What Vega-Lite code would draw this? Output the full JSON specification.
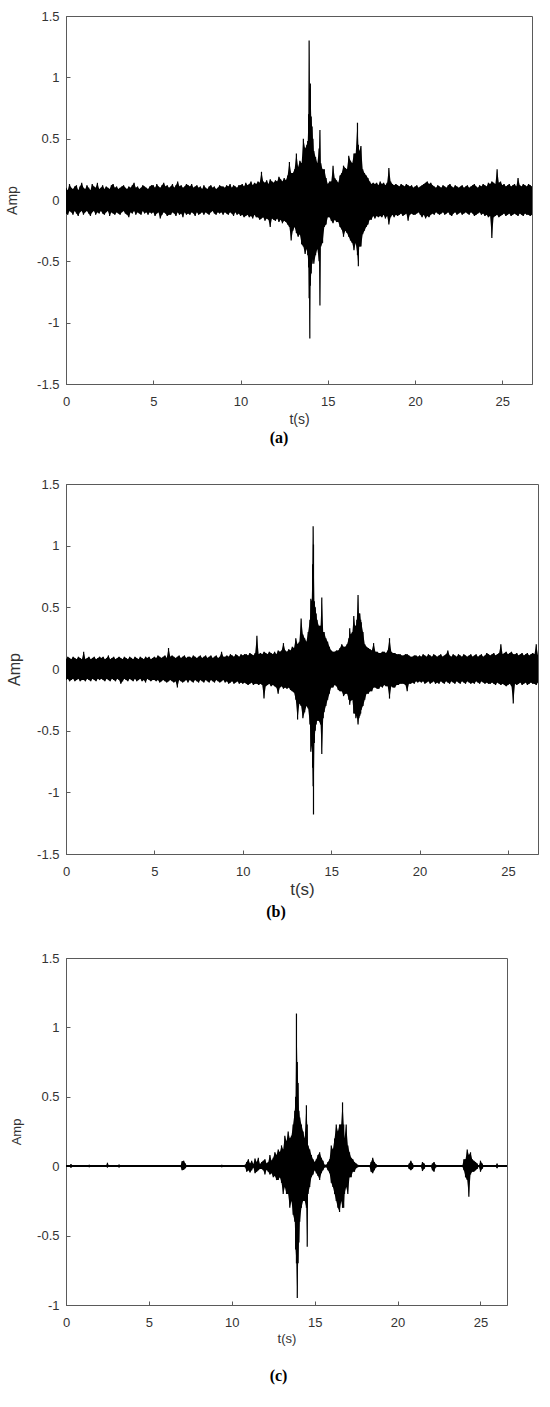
{
"$schema": "https://vega.github.io/schema/vega-lite/v6.json",
"padding": {"left": 5, "top": 9, "right": 0, "bottom": 0},
"columns": 1,
"spacing": 30,
"background": "white",
"config": {
  "view": {"stroke": "#5a5a5a", "strokeWidth": 1},
  "axis": {"grid": false, "domainColor": "#5a5a5a", "tickColor": "#5a5a5a", "tickSize": -4, "labelFont": "Liberation Sans", "titleFont": "Liberation Sans", "labelColor": "#333333", "titleColor": "#333333", "labelFontSize": 13, "titleFontWeight": "normal"},
  "axisX": {"labelPadding": 15, "labelFlush": false, "titlePadding": 4},
  "axisY": {"labelPadding": 11}
},
"datasets": {
"a": [
{"t":0.0,"hi":0.10,"lo":-0.11},{"t":0.1,"hi":0.08,"lo":-0.12},{"t":0.2,"hi":0.13,"lo":-0.09},{"t":0.3,"hi":0.10,"lo":-0.10},{"t":0.4,"hi":0.09,"lo":-0.12},{"t":0.5,"hi":0.11,"lo":-0.09},{"t":0.6,"hi":0.12,"lo":-0.11},{"t":0.7,"hi":0.08,"lo":-0.13},{"t":0.8,"hi":0.11,"lo":-0.10},{"t":0.9,"hi":0.14,"lo":-0.09},
{"t":1.0,"hi":0.10,"lo":-0.12},{"t":1.1,"hi":0.09,"lo":-0.10},{"t":1.2,"hi":0.12,"lo":-0.09},{"t":1.3,"hi":0.10,"lo":-0.11},{"t":1.4,"hi":0.08,"lo":-0.13},{"t":1.5,"hi":0.13,"lo":-0.10},{"t":1.6,"hi":0.11,"lo":-0.09},{"t":1.7,"hi":0.10,"lo":-0.12},{"t":1.8,"hi":0.14,"lo":-0.10},{"t":1.9,"hi":0.09,"lo":-0.11},
{"t":2.0,"hi":0.10,"lo":-0.09},{"t":2.1,"hi":0.12,"lo":-0.11},{"t":2.2,"hi":0.09,"lo":-0.12},{"t":2.3,"hi":0.11,"lo":-0.10},{"t":2.4,"hi":0.10,"lo":-0.09},{"t":2.5,"hi":0.09,"lo":-0.13},{"t":2.6,"hi":0.12,"lo":-0.10},{"t":2.7,"hi":0.13,"lo":-0.11},{"t":2.8,"hi":0.10,"lo":-0.12},{"t":2.9,"hi":0.11,"lo":-0.10},
{"t":3.0,"hi":0.09,"lo":-0.11},{"t":3.1,"hi":0.10,"lo":-0.12},{"t":3.2,"hi":0.11,"lo":-0.10},{"t":3.3,"hi":0.12,"lo":-0.09},{"t":3.4,"hi":0.10,"lo":-0.11},{"t":3.5,"hi":0.09,"lo":-0.12},{"t":3.6,"hi":0.11,"lo":-0.14},{"t":3.7,"hi":0.10,"lo":-0.10},{"t":3.8,"hi":0.12,"lo":-0.11},{"t":3.9,"hi":0.14,"lo":-0.09},
{"t":4.0,"hi":0.10,"lo":-0.12},{"t":4.1,"hi":0.11,"lo":-0.10},{"t":4.2,"hi":0.09,"lo":-0.11},{"t":4.3,"hi":0.10,"lo":-0.12},{"t":4.4,"hi":0.12,"lo":-0.09},{"t":4.5,"hi":0.11,"lo":-0.11},{"t":4.6,"hi":0.10,"lo":-0.10},{"t":4.7,"hi":0.09,"lo":-0.12},{"t":4.8,"hi":0.11,"lo":-0.10},{"t":4.9,"hi":0.12,"lo":-0.11},
{"t":5.0,"hi":0.12,"lo":-0.10},{"t":5.1,"hi":0.10,"lo":-0.13},{"t":5.2,"hi":0.13,"lo":-0.11},{"t":5.3,"hi":0.11,"lo":-0.10},{"t":5.4,"hi":0.10,"lo":-0.15},{"t":5.5,"hi":0.12,"lo":-0.12},{"t":5.6,"hi":0.14,"lo":-0.10},{"t":5.7,"hi":0.11,"lo":-0.11},{"t":5.8,"hi":0.12,"lo":-0.13},{"t":5.9,"hi":0.10,"lo":-0.12},
{"t":6.0,"hi":0.11,"lo":-0.12},{"t":6.1,"hi":0.13,"lo":-0.10},{"t":6.2,"hi":0.10,"lo":-0.11},{"t":6.3,"hi":0.12,"lo":-0.13},{"t":6.4,"hi":0.15,"lo":-0.10},{"t":6.5,"hi":0.11,"lo":-0.12},{"t":6.6,"hi":0.12,"lo":-0.11},{"t":6.7,"hi":0.10,"lo":-0.14},{"t":6.8,"hi":0.11,"lo":-0.10},{"t":6.9,"hi":0.13,"lo":-0.12},
{"t":7.0,"hi":0.12,"lo":-0.11},{"t":7.1,"hi":0.11,"lo":-0.12},{"t":7.2,"hi":0.13,"lo":-0.10},{"t":7.3,"hi":0.10,"lo":-0.11},{"t":7.4,"hi":0.11,"lo":-0.13},{"t":7.5,"hi":0.12,"lo":-0.10},{"t":7.6,"hi":0.10,"lo":-0.12},{"t":7.7,"hi":0.11,"lo":-0.11},{"t":7.8,"hi":0.09,"lo":-0.10},{"t":7.9,"hi":0.12,"lo":-0.12},
{"t":8.0,"hi":0.10,"lo":-0.10},{"t":8.1,"hi":0.09,"lo":-0.11},{"t":8.2,"hi":0.11,"lo":-0.12},{"t":8.3,"hi":0.12,"lo":-0.10},{"t":8.4,"hi":0.10,"lo":-0.09},{"t":8.5,"hi":0.11,"lo":-0.11},{"t":8.6,"hi":0.09,"lo":-0.12},{"t":8.7,"hi":0.10,"lo":-0.10},{"t":8.8,"hi":0.12,"lo":-0.11},{"t":8.9,"hi":0.11,"lo":-0.10},
{"t":9.0,"hi":0.11,"lo":-0.12},{"t":9.1,"hi":0.10,"lo":-0.10},{"t":9.2,"hi":0.12,"lo":-0.11},{"t":9.3,"hi":0.11,"lo":-0.12},{"t":9.4,"hi":0.13,"lo":-0.10},{"t":9.5,"hi":0.10,"lo":-0.11},{"t":9.6,"hi":0.12,"lo":-0.13},{"t":9.7,"hi":0.11,"lo":-0.10},{"t":9.8,"hi":0.10,"lo":-0.12},{"t":9.9,"hi":0.12,"lo":-0.11},
{"t":10.0,"hi":0.12,"lo":-0.13},{"t":10.1,"hi":0.13,"lo":-0.12},{"t":10.2,"hi":0.11,"lo":-0.14},{"t":10.3,"hi":0.14,"lo":-0.13},{"t":10.4,"hi":0.12,"lo":-0.12},{"t":10.5,"hi":0.13,"lo":-0.14},{"t":10.6,"hi":0.15,"lo":-0.13},{"t":10.7,"hi":0.12,"lo":-0.15},{"t":10.8,"hi":0.14,"lo":-0.12},{"t":10.9,"hi":0.13,"lo":-0.14},
{"t":11.0,"hi":0.15,"lo":-0.14},{"t":11.1,"hi":0.14,"lo":-0.16},{"t":11.2,"hi":0.23,"lo":-0.15},{"t":11.3,"hi":0.15,"lo":-0.14},{"t":11.4,"hi":0.14,"lo":-0.17},{"t":11.5,"hi":0.16,"lo":-0.15},{"t":11.6,"hi":0.13,"lo":-0.16},{"t":11.7,"hi":0.17,"lo":-0.22},{"t":11.8,"hi":0.15,"lo":-0.15},{"t":11.9,"hi":0.14,"lo":-0.16},
{"t":12.0,"hi":0.16,"lo":-0.17},{"t":12.1,"hi":0.15,"lo":-0.15},{"t":12.2,"hi":0.19,"lo":-0.18},{"t":12.3,"hi":0.17,"lo":-0.16},{"t":12.4,"hi":0.15,"lo":-0.19},{"t":12.5,"hi":0.18,"lo":-0.17},{"t":12.6,"hi":0.16,"lo":-0.18},{"t":12.7,"hi":0.20,"lo":-0.20},{"t":12.8,"hi":0.31,"lo":-0.22},{"t":12.9,"hi":0.22,"lo":-0.33},
{"t":13.0,"hi":0.22,"lo":-0.25},{"t":13.1,"hi":0.25,"lo":-0.22},{"t":13.2,"hi":0.38,"lo":-0.27},{"t":13.3,"hi":0.27,"lo":-0.30},{"t":13.4,"hi":0.32,"lo":-0.28},{"t":13.5,"hi":0.30,"lo":-0.36},{"t":13.6,"hi":0.50,"lo":-0.38},{"t":13.7,"hi":0.42,"lo":-0.44},{"t":13.8,"hi":0.45,"lo":-0.40},{"t":13.85,"hi":0.48,"lo":-0.45},
{"t":13.9,"hi":0.70,"lo":-0.55},{"t":13.93,"hi":1.30,"lo":-0.80},{"t":13.97,"hi":0.90,"lo":-1.13},{"t":14.0,"hi":0.95,"lo":-0.70},{"t":14.05,"hi":0.68,"lo":-0.60},{"t":14.1,"hi":0.60,"lo":-0.52},{"t":14.15,"hi":0.50,"lo":-0.48},{"t":14.2,"hi":0.40,"lo":-0.52},{"t":14.3,"hi":0.35,"lo":-0.45},{"t":14.4,"hi":0.30,"lo":-0.40},
{"t":14.5,"hi":0.42,"lo":-0.50},{"t":14.55,"hi":0.57,"lo":-0.86},{"t":14.6,"hi":0.30,"lo":-0.38},{"t":14.7,"hi":0.25,"lo":-0.35},{"t":14.8,"hi":0.25,"lo":-0.22},{"t":14.9,"hi":0.18,"lo":-0.20},
{"t":15.0,"hi":0.13,"lo":-0.14},{"t":15.1,"hi":0.15,"lo":-0.14},{"t":15.2,"hi":0.15,"lo":-0.17},{"t":15.3,"hi":0.28,"lo":-0.19},{"t":15.4,"hi":0.18,"lo":-0.16},{"t":15.5,"hi":0.16,"lo":-0.18},{"t":15.6,"hi":0.14,"lo":-0.18},{"t":15.7,"hi":0.20,"lo":-0.22},{"t":15.8,"hi":0.22,"lo":-0.24},{"t":15.9,"hi":0.28,"lo":-0.30},
{"t":16.0,"hi":0.26,"lo":-0.25},{"t":16.1,"hi":0.25,"lo":-0.27},{"t":16.2,"hi":0.36,"lo":-0.30},{"t":16.3,"hi":0.32,"lo":-0.33},{"t":16.4,"hi":0.30,"lo":-0.35},{"t":16.5,"hi":0.38,"lo":-0.41},{"t":16.6,"hi":0.38,"lo":-0.35},{"t":16.7,"hi":0.63,"lo":-0.45},{"t":16.75,"hi":0.45,"lo":-0.54},{"t":16.8,"hi":0.40,"lo":-0.38},{"t":16.9,"hi":0.44,"lo":-0.38},
{"t":17.0,"hi":0.25,"lo":-0.28},{"t":17.1,"hi":0.22,"lo":-0.25},{"t":17.2,"hi":0.20,"lo":-0.22},{"t":17.3,"hi":0.18,"lo":-0.20},{"t":17.4,"hi":0.15,"lo":-0.16},{"t":17.5,"hi":0.13,"lo":-0.16},{"t":17.6,"hi":0.14,"lo":-0.13},{"t":17.7,"hi":0.13,"lo":-0.15},{"t":17.8,"hi":0.14,"lo":-0.13},{"t":17.9,"hi":0.12,"lo":-0.14},
{"t":18.0,"hi":0.15,"lo":-0.13},{"t":18.1,"hi":0.13,"lo":-0.14},{"t":18.2,"hi":0.14,"lo":-0.12},{"t":18.3,"hi":0.12,"lo":-0.15},{"t":18.4,"hi":0.14,"lo":-0.13},{"t":18.5,"hi":0.26,"lo":-0.20},{"t":18.6,"hi":0.15,"lo":-0.14},{"t":18.7,"hi":0.13,"lo":-0.12},{"t":18.8,"hi":0.12,"lo":-0.14},{"t":18.9,"hi":0.13,"lo":-0.12},
{"t":19.0,"hi":0.12,"lo":-0.13},{"t":19.1,"hi":0.11,"lo":-0.12},{"t":19.2,"hi":0.13,"lo":-0.11},{"t":19.3,"hi":0.12,"lo":-0.13},{"t":19.4,"hi":0.11,"lo":-0.12},{"t":19.5,"hi":0.13,"lo":-0.11},{"t":19.6,"hi":0.12,"lo":-0.17},{"t":19.7,"hi":0.11,"lo":-0.12},{"t":19.8,"hi":0.12,"lo":-0.11},{"t":19.9,"hi":0.10,"lo":-0.12},
{"t":20.0,"hi":0.11,"lo":-0.12},{"t":20.1,"hi":0.12,"lo":-0.11},{"t":20.2,"hi":0.10,"lo":-0.10},{"t":20.3,"hi":0.11,"lo":-0.12},{"t":20.4,"hi":0.12,"lo":-0.14},{"t":20.5,"hi":0.13,"lo":-0.12},{"t":20.6,"hi":0.14,"lo":-0.15},{"t":20.7,"hi":0.15,"lo":-0.13},{"t":20.8,"hi":0.13,"lo":-0.14},{"t":20.9,"hi":0.14,"lo":-0.12},
{"t":21.0,"hi":0.12,"lo":-0.11},{"t":21.1,"hi":0.11,"lo":-0.12},{"t":21.2,"hi":0.10,"lo":-0.10},{"t":21.3,"hi":0.12,"lo":-0.11},{"t":21.4,"hi":0.11,"lo":-0.12},{"t":21.5,"hi":0.10,"lo":-0.11},{"t":21.6,"hi":0.12,"lo":-0.10},{"t":21.7,"hi":0.11,"lo":-0.12},{"t":21.8,"hi":0.10,"lo":-0.11},{"t":21.9,"hi":0.12,"lo":-0.10},
{"t":22.0,"hi":0.13,"lo":-0.12},{"t":22.1,"hi":0.11,"lo":-0.13},{"t":22.2,"hi":0.10,"lo":-0.11},{"t":22.3,"hi":0.12,"lo":-0.10},{"t":22.4,"hi":0.11,"lo":-0.12},{"t":22.5,"hi":0.10,"lo":-0.11},{"t":22.6,"hi":0.11,"lo":-0.10},{"t":22.7,"hi":0.12,"lo":-0.12},{"t":22.8,"hi":0.10,"lo":-0.11},{"t":22.9,"hi":0.11,"lo":-0.10},
{"t":23.0,"hi":0.12,"lo":-0.11},{"t":23.1,"hi":0.10,"lo":-0.12},{"t":23.2,"hi":0.11,"lo":-0.10},{"t":23.3,"hi":0.12,"lo":-0.11},{"t":23.4,"hi":0.13,"lo":-0.13},{"t":23.5,"hi":0.11,"lo":-0.12},{"t":23.6,"hi":0.10,"lo":-0.11},{"t":23.7,"hi":0.12,"lo":-0.10},{"t":23.8,"hi":0.11,"lo":-0.12},{"t":23.9,"hi":0.13,"lo":-0.11},
{"t":24.0,"hi":0.12,"lo":-0.13},{"t":24.1,"hi":0.11,"lo":-0.12},{"t":24.2,"hi":0.14,"lo":-0.14},{"t":24.3,"hi":0.13,"lo":-0.13},{"t":24.4,"hi":0.15,"lo":-0.31},{"t":24.5,"hi":0.14,"lo":-0.14},{"t":24.6,"hi":0.13,"lo":-0.13},{"t":24.7,"hi":0.25,"lo":-0.12},{"t":24.8,"hi":0.14,"lo":-0.14},{"t":24.9,"hi":0.15,"lo":-0.13},
{"t":25.0,"hi":0.12,"lo":-0.12},{"t":25.1,"hi":0.13,"lo":-0.11},{"t":25.2,"hi":0.11,"lo":-0.13},{"t":25.3,"hi":0.12,"lo":-0.12},{"t":25.4,"hi":0.13,"lo":-0.11},{"t":25.5,"hi":0.11,"lo":-0.13},{"t":25.6,"hi":0.12,"lo":-0.12},{"t":25.7,"hi":0.13,"lo":-0.11},{"t":25.8,"hi":0.11,"lo":-0.12},{"t":25.9,"hi":0.18,"lo":-0.13},
{"t":26.0,"hi":0.12,"lo":-0.11},{"t":26.1,"hi":0.11,"lo":-0.12},{"t":26.2,"hi":0.13,"lo":-0.13},{"t":26.3,"hi":0.12,"lo":-0.11},{"t":26.4,"hi":0.11,"lo":-0.12},{"t":26.5,"hi":0.13,"lo":-0.12},{"t":26.6,"hi":0.12,"lo":-0.13},{"t":26.7,"hi":0.11,"lo":-0.12}
],
"b": [
{"t":0.0,"hi":0.08,"lo":-0.09},{"t":0.1,"hi":0.10,"lo":-0.08},{"t":0.2,"hi":0.09,"lo":-0.10},{"t":0.3,"hi":0.08,"lo":-0.09},{"t":0.4,"hi":0.10,"lo":-0.08},{"t":0.5,"hi":0.09,"lo":-0.10},{"t":0.6,"hi":0.08,"lo":-0.09},{"t":0.7,"hi":0.10,"lo":-0.08},{"t":0.8,"hi":0.09,"lo":-0.10},{"t":0.9,"hi":0.08,"lo":-0.09},
{"t":1.0,"hi":0.14,"lo":-0.09},{"t":1.1,"hi":0.08,"lo":-0.10},{"t":1.2,"hi":0.09,"lo":-0.08},{"t":1.3,"hi":0.10,"lo":-0.09},{"t":1.4,"hi":0.08,"lo":-0.10},{"t":1.5,"hi":0.09,"lo":-0.08},{"t":1.6,"hi":0.10,"lo":-0.09},{"t":1.7,"hi":0.08,"lo":-0.10},{"t":1.8,"hi":0.09,"lo":-0.08},{"t":1.9,"hi":0.10,"lo":-0.09},
{"t":2.0,"hi":0.09,"lo":-0.08},{"t":2.1,"hi":0.10,"lo":-0.09},{"t":2.2,"hi":0.08,"lo":-0.10},{"t":2.3,"hi":0.09,"lo":-0.08},{"t":2.4,"hi":0.11,"lo":-0.09},{"t":2.5,"hi":0.08,"lo":-0.10},{"t":2.6,"hi":0.09,"lo":-0.08},{"t":2.7,"hi":0.10,"lo":-0.09},{"t":2.8,"hi":0.08,"lo":-0.10},{"t":2.9,"hi":0.09,"lo":-0.08},
{"t":3.0,"hi":0.10,"lo":-0.09},{"t":3.1,"hi":0.09,"lo":-0.12},{"t":3.2,"hi":0.08,"lo":-0.10},{"t":3.3,"hi":0.10,"lo":-0.08},{"t":3.4,"hi":0.09,"lo":-0.09},{"t":3.5,"hi":0.08,"lo":-0.10},{"t":3.6,"hi":0.10,"lo":-0.08},{"t":3.7,"hi":0.09,"lo":-0.09},{"t":3.8,"hi":0.08,"lo":-0.10},{"t":3.9,"hi":0.10,"lo":-0.08},
{"t":4.0,"hi":0.09,"lo":-0.10},{"t":4.1,"hi":0.08,"lo":-0.09},{"t":4.2,"hi":0.10,"lo":-0.08},{"t":4.3,"hi":0.09,"lo":-0.10},{"t":4.4,"hi":0.08,"lo":-0.09},{"t":4.5,"hi":0.10,"lo":-0.11},{"t":4.6,"hi":0.09,"lo":-0.08},{"t":4.7,"hi":0.10,"lo":-0.09},{"t":4.8,"hi":0.08,"lo":-0.10},{"t":4.9,"hi":0.09,"lo":-0.09},
{"t":5.0,"hi":0.10,"lo":-0.09},{"t":5.1,"hi":0.09,"lo":-0.10},{"t":5.2,"hi":0.11,"lo":-0.09},{"t":5.3,"hi":0.10,"lo":-0.11},{"t":5.4,"hi":0.09,"lo":-0.10},{"t":5.5,"hi":0.10,"lo":-0.09},{"t":5.6,"hi":0.11,"lo":-0.10},{"t":5.7,"hi":0.09,"lo":-0.11},{"t":5.8,"hi":0.17,"lo":-0.10},{"t":5.9,"hi":0.10,"lo":-0.09},
{"t":6.0,"hi":0.11,"lo":-0.10},{"t":6.1,"hi":0.10,"lo":-0.11},{"t":6.2,"hi":0.09,"lo":-0.10},{"t":6.3,"hi":0.10,"lo":-0.15},{"t":6.4,"hi":0.11,"lo":-0.09},{"t":6.5,"hi":0.09,"lo":-0.10},{"t":6.6,"hi":0.10,"lo":-0.11},{"t":6.7,"hi":0.11,"lo":-0.10},{"t":6.8,"hi":0.09,"lo":-0.09},{"t":6.9,"hi":0.10,"lo":-0.11},
{"t":7.0,"hi":0.10,"lo":-0.09},{"t":7.1,"hi":0.09,"lo":-0.10},{"t":7.2,"hi":0.11,"lo":-0.11},{"t":7.3,"hi":0.10,"lo":-0.09},{"t":7.4,"hi":0.09,"lo":-0.10},{"t":7.5,"hi":0.10,"lo":-0.11},{"t":7.6,"hi":0.11,"lo":-0.09},{"t":7.7,"hi":0.09,"lo":-0.10},{"t":7.8,"hi":0.10,"lo":-0.11},{"t":7.9,"hi":0.11,"lo":-0.09},
{"t":8.0,"hi":0.09,"lo":-0.10},{"t":8.1,"hi":0.10,"lo":-0.11},{"t":8.2,"hi":0.11,"lo":-0.09},{"t":8.3,"hi":0.09,"lo":-0.10},{"t":8.4,"hi":0.10,"lo":-0.11},{"t":8.5,"hi":0.11,"lo":-0.09},{"t":8.6,"hi":0.09,"lo":-0.10},{"t":8.7,"hi":0.10,"lo":-0.11},{"t":8.8,"hi":0.14,"lo":-0.10},{"t":8.9,"hi":0.10,"lo":-0.09},
{"t":9.0,"hi":0.10,"lo":-0.11},{"t":9.1,"hi":0.11,"lo":-0.10},{"t":9.2,"hi":0.10,"lo":-0.12},{"t":9.3,"hi":0.12,"lo":-0.11},{"t":9.4,"hi":0.11,"lo":-0.10},{"t":9.5,"hi":0.10,"lo":-0.12},{"t":9.6,"hi":0.12,"lo":-0.11},{"t":9.7,"hi":0.11,"lo":-0.10},{"t":9.8,"hi":0.10,"lo":-0.12},{"t":9.9,"hi":0.12,"lo":-0.11},
{"t":10.0,"hi":0.11,"lo":-0.12},{"t":10.1,"hi":0.12,"lo":-0.11},{"t":10.2,"hi":0.12,"lo":-0.12},{"t":10.3,"hi":0.11,"lo":-0.13},{"t":10.4,"hi":0.13,"lo":-0.12},{"t":10.5,"hi":0.12,"lo":-0.11},{"t":10.6,"hi":0.11,"lo":-0.13},{"t":10.7,"hi":0.13,"lo":-0.12},{"t":10.8,"hi":0.27,"lo":-0.12},{"t":10.9,"hi":0.12,"lo":-0.13},
{"t":11.0,"hi":0.13,"lo":-0.12},{"t":11.1,"hi":0.12,"lo":-0.13},{"t":11.2,"hi":0.14,"lo":-0.24},{"t":11.3,"hi":0.13,"lo":-0.14},{"t":11.4,"hi":0.12,"lo":-0.13},{"t":11.5,"hi":0.14,"lo":-0.12},{"t":11.6,"hi":0.13,"lo":-0.14},{"t":11.7,"hi":0.12,"lo":-0.13},{"t":11.8,"hi":0.14,"lo":-0.14},{"t":11.9,"hi":0.12,"lo":-0.15},
{"t":12.0,"hi":0.15,"lo":-0.20},{"t":12.1,"hi":0.14,"lo":-0.15},{"t":12.2,"hi":0.15,"lo":-0.14},{"t":12.3,"hi":0.21,"lo":-0.16},{"t":12.4,"hi":0.15,"lo":-0.15},{"t":12.5,"hi":0.14,"lo":-0.16},{"t":12.6,"hi":0.16,"lo":-0.15},{"t":12.7,"hi":0.15,"lo":-0.17},{"t":12.8,"hi":0.18,"lo":-0.18},{"t":12.9,"hi":0.17,"lo":-0.19},
{"t":13.0,"hi":0.25,"lo":-0.25},{"t":13.1,"hi":0.20,"lo":-0.41},{"t":13.2,"hi":0.22,"lo":-0.28},{"t":13.3,"hi":0.41,"lo":-0.30},{"t":13.4,"hi":0.28,"lo":-0.40},{"t":13.5,"hi":0.25,"lo":-0.35},{"t":13.6,"hi":0.22,"lo":-0.30},{"t":13.7,"hi":0.30,"lo":-0.32},{"t":13.8,"hi":0.40,"lo":-0.45},{"t":13.85,"hi":0.57,"lo":-0.67},
{"t":13.9,"hi":0.55,"lo":-0.62},{"t":13.95,"hi":0.85,"lo":-0.80},{"t":13.98,"hi":1.157,"lo":-0.95},{"t":14.0,"hi":1.01,"lo":-1.18},{"t":14.05,"hi":0.55,"lo":-0.60},{"t":14.1,"hi":0.50,"lo":-0.50},{"t":14.15,"hi":0.45,"lo":-0.45},{"t":14.2,"hi":0.40,"lo":-0.42},{"t":14.3,"hi":0.35,"lo":-0.42},{"t":14.4,"hi":0.35,"lo":-0.45},
{"t":14.47,"hi":0.58,"lo":-0.69},{"t":14.55,"hi":0.30,"lo":-0.40},{"t":14.6,"hi":0.30,"lo":-0.35},{"t":14.7,"hi":0.25,"lo":-0.30},{"t":14.8,"hi":0.22,"lo":-0.25},{"t":14.9,"hi":0.18,"lo":-0.20},
{"t":15.0,"hi":0.15,"lo":-0.15},{"t":15.1,"hi":0.14,"lo":-0.15},{"t":15.2,"hi":0.14,"lo":-0.13},{"t":15.3,"hi":0.15,"lo":-0.14},{"t":15.4,"hi":0.15,"lo":-0.17},{"t":15.5,"hi":0.17,"lo":-0.18},{"t":15.6,"hi":0.20,"lo":-0.18},{"t":15.7,"hi":0.18,"lo":-0.22},{"t":15.8,"hi":0.18,"lo":-0.20},{"t":15.9,"hi":0.20,"lo":-0.20},
{"t":16.0,"hi":0.25,"lo":-0.25},{"t":16.05,"hi":0.33,"lo":-0.29},{"t":16.1,"hi":0.28,"lo":-0.26},{"t":16.2,"hi":0.30,"lo":-0.25},{"t":16.28,"hi":0.43,"lo":-0.36},{"t":16.35,"hi":0.35,"lo":-0.36},{"t":16.4,"hi":0.35,"lo":-0.40},{"t":16.45,"hi":0.40,"lo":-0.38},{"t":16.52,"hi":0.60,"lo":-0.45},{"t":16.57,"hi":0.45,"lo":-0.40},
{"t":16.62,"hi":0.45,"lo":-0.38},{"t":16.67,"hi":0.40,"lo":-0.36},{"t":16.7,"hi":0.38,"lo":-0.33},{"t":16.8,"hi":0.30,"lo":-0.30},{"t":16.9,"hi":0.20,"lo":-0.25},
{"t":17.0,"hi":0.18,"lo":-0.20},{"t":17.1,"hi":0.17,"lo":-0.20},{"t":17.2,"hi":0.16,"lo":-0.18},{"t":17.3,"hi":0.15,"lo":-0.18},{"t":17.4,"hi":0.21,"lo":-0.15},{"t":17.5,"hi":0.14,"lo":-0.15},{"t":17.6,"hi":0.14,"lo":-0.16},{"t":17.7,"hi":0.13,"lo":-0.16},{"t":17.8,"hi":0.13,"lo":-0.14},{"t":17.9,"hi":0.14,"lo":-0.15},
{"t":18.0,"hi":0.14,"lo":-0.13},{"t":18.1,"hi":0.13,"lo":-0.14},{"t":18.2,"hi":0.15,"lo":-0.14},{"t":18.3,"hi":0.25,"lo":-0.24},{"t":18.4,"hi":0.14,"lo":-0.14},{"t":18.5,"hi":0.13,"lo":-0.15},{"t":18.6,"hi":0.13,"lo":-0.15},{"t":18.7,"hi":0.12,"lo":-0.13},{"t":18.8,"hi":0.12,"lo":-0.13},{"t":18.9,"hi":0.12,"lo":-0.12},
{"t":19.0,"hi":0.11,"lo":-0.12},{"t":19.1,"hi":0.11,"lo":-0.12},{"t":19.2,"hi":0.12,"lo":-0.13},{"t":19.3,"hi":0.12,"lo":-0.18},{"t":19.4,"hi":0.11,"lo":-0.12},{"t":19.5,"hi":0.10,"lo":-0.12},{"t":19.6,"hi":0.10,"lo":-0.11},{"t":19.7,"hi":0.11,"lo":-0.12},{"t":19.8,"hi":0.11,"lo":-0.10},{"t":19.9,"hi":0.10,"lo":-0.11},
{"t":20.0,"hi":0.11,"lo":-0.10},{"t":20.1,"hi":0.10,"lo":-0.11},{"t":20.2,"hi":0.12,"lo":-0.10},{"t":20.3,"hi":0.11,"lo":-0.12},{"t":20.4,"hi":0.10,"lo":-0.11},{"t":20.5,"hi":0.12,"lo":-0.10},{"t":20.6,"hi":0.11,"lo":-0.12},{"t":20.7,"hi":0.10,"lo":-0.11},{"t":20.8,"hi":0.12,"lo":-0.10},{"t":20.9,"hi":0.11,"lo":-0.12},
{"t":21.0,"hi":0.10,"lo":-0.11},{"t":21.1,"hi":0.11,"lo":-0.12},{"t":21.2,"hi":0.12,"lo":-0.10},{"t":21.3,"hi":0.10,"lo":-0.11},{"t":21.4,"hi":0.11,"lo":-0.12},{"t":21.5,"hi":0.12,"lo":-0.10},{"t":21.6,"hi":0.15,"lo":-0.11},{"t":21.7,"hi":0.11,"lo":-0.12},{"t":21.8,"hi":0.10,"lo":-0.10},{"t":21.9,"hi":0.12,"lo":-0.11},
{"t":22.0,"hi":0.11,"lo":-0.12},{"t":22.1,"hi":0.10,"lo":-0.10},{"t":22.2,"hi":0.12,"lo":-0.11},{"t":22.3,"hi":0.11,"lo":-0.12},{"t":22.4,"hi":0.10,"lo":-0.10},{"t":22.5,"hi":0.12,"lo":-0.11},{"t":22.6,"hi":0.11,"lo":-0.12},{"t":22.7,"hi":0.10,"lo":-0.10},{"t":22.8,"hi":0.11,"lo":-0.11},{"t":22.9,"hi":0.12,"lo":-0.12},
{"t":23.0,"hi":0.10,"lo":-0.11},{"t":23.1,"hi":0.11,"lo":-0.12},{"t":23.2,"hi":0.12,"lo":-0.10},{"t":23.3,"hi":0.10,"lo":-0.11},{"t":23.4,"hi":0.11,"lo":-0.12},{"t":23.5,"hi":0.12,"lo":-0.10},{"t":23.6,"hi":0.10,"lo":-0.11},{"t":23.7,"hi":0.11,"lo":-0.12},{"t":23.8,"hi":0.13,"lo":-0.11},{"t":23.9,"hi":0.12,"lo":-0.12},
{"t":24.0,"hi":0.11,"lo":-0.12},{"t":24.1,"hi":0.12,"lo":-0.11},{"t":24.2,"hi":0.13,"lo":-0.12},{"t":24.3,"hi":0.11,"lo":-0.13},{"t":24.4,"hi":0.12,"lo":-0.11},{"t":24.5,"hi":0.13,"lo":-0.12},{"t":24.6,"hi":0.20,"lo":-0.13},{"t":24.7,"hi":0.12,"lo":-0.12},{"t":24.8,"hi":0.13,"lo":-0.13},{"t":24.9,"hi":0.14,"lo":-0.14},
{"t":25.0,"hi":0.12,"lo":-0.13},{"t":25.1,"hi":0.13,"lo":-0.12},{"t":25.2,"hi":0.14,"lo":-0.14},{"t":25.3,"hi":0.12,"lo":-0.28},{"t":25.4,"hi":0.12,"lo":-0.12},{"t":25.5,"hi":0.13,"lo":-0.13},{"t":25.6,"hi":0.11,"lo":-0.12},{"t":25.7,"hi":0.12,"lo":-0.11},{"t":25.8,"hi":0.13,"lo":-0.13},{"t":25.9,"hi":0.11,"lo":-0.12},
{"t":26.0,"hi":0.12,"lo":-0.11},{"t":26.1,"hi":0.13,"lo":-0.13},{"t":26.2,"hi":0.11,"lo":-0.12},{"t":26.3,"hi":0.12,"lo":-0.11},{"t":26.4,"hi":0.13,"lo":-0.12},{"t":26.5,"hi":0.12,"lo":-0.12},{"t":26.6,"hi":0.20,"lo":-0.13},{"t":26.7,"hi":0.11,"lo":-0.11}
],
"c": [
{"t":0.0,"hi":0.002,"lo":-0.002},{"t":0.2,"hi":0.002,"lo":-0.002},{"t":0.3,"hi":0.015,"lo":-0.012},{"t":0.4,"hi":0.002,"lo":-0.002},
{"t":1.3,"hi":0.002,"lo":-0.002},{"t":1.4,"hi":0.010,"lo":-0.008},{"t":1.5,"hi":0.002,"lo":-0.002},
{"t":2.4,"hi":0.002,"lo":-0.002},{"t":2.5,"hi":0.025,"lo":-0.010},{"t":2.6,"hi":0.002,"lo":-0.002},
{"t":3.1,"hi":0.002,"lo":-0.002},{"t":3.2,"hi":0.012,"lo":-0.010},{"t":3.3,"hi":0.002,"lo":-0.002},
{"t":6.9,"hi":0.002,"lo":-0.002},{"t":7.0,"hi":0.035,"lo":-0.030},{"t":7.1,"hi":0.040,"lo":-0.025},{"t":7.2,"hi":0.020,"lo":-0.015},{"t":7.3,"hi":0.002,"lo":-0.002},
{"t":9.3,"hi":0.002,"lo":-0.002},{"t":9.4,"hi":0.010,"lo":-0.008},{"t":9.5,"hi":0.002,"lo":-0.002},
{"t":10.7,"hi":0.002,"lo":-0.002},{"t":10.8,"hi":0.010,"lo":-0.008},{"t":10.9,"hi":0.030,"lo":-0.040},{"t":11.0,"hi":0.050,"lo":-0.030},{"t":11.1,"hi":0.020,"lo":-0.045},{"t":11.2,"hi":0.040,"lo":-0.030},{"t":11.3,"hi":0.015,"lo":-0.010},{"t":11.4,"hi":0.055,"lo":-0.050},{"t":11.5,"hi":0.030,"lo":-0.040},{"t":11.6,"hi":0.060,"lo":-0.030},{"t":11.7,"hi":0.015,"lo":-0.020},
{"t":11.8,"hi":0.030,"lo":-0.020},{"t":11.9,"hi":0.040,"lo":-0.030},{"t":12.0,"hi":0.050,"lo":-0.060},{"t":12.1,"hi":0.020,"lo":-0.025},{"t":12.2,"hi":0.030,"lo":-0.040},{"t":12.3,"hi":0.080,"lo":-0.060},{"t":12.4,"hi":0.040,"lo":-0.050},{"t":12.5,"hi":0.060,"lo":-0.080},{"t":12.6,"hi":0.100,"lo":-0.070},{"t":12.7,"hi":0.080,"lo":-0.100},
{"t":12.8,"hi":0.120,"lo":-0.100},{"t":12.9,"hi":0.100,"lo":-0.080},{"t":13.0,"hi":0.150,"lo":-0.120},{"t":13.1,"hi":0.120,"lo":-0.200},{"t":13.2,"hi":0.220,"lo":-0.150},{"t":13.3,"hi":0.180,"lo":-0.200},{"t":13.4,"hi":0.250,"lo":-0.200},{"t":13.5,"hi":0.200,"lo":-0.300},{"t":13.6,"hi":0.220,"lo":-0.250},{"t":13.7,"hi":0.300,"lo":-0.350},
{"t":13.8,"hi":0.400,"lo":-0.400},{"t":13.85,"hi":0.500,"lo":-0.600},{"t":13.9,"hi":1.100,"lo":-0.700},{"t":13.95,"hi":0.750,"lo":-0.950},{"t":14.0,"hi":0.600,"lo":-0.700},{"t":14.05,"hi":0.400,"lo":-0.550},{"t":14.1,"hi":0.350,"lo":-0.400},{"t":14.2,"hi":0.300,"lo":-0.300},{"t":14.3,"hi":0.250,"lo":-0.250},{"t":14.4,"hi":0.200,"lo":-0.250},
{"t":14.5,"hi":0.440,"lo":-0.300},{"t":14.55,"hi":0.300,"lo":-0.580},{"t":14.6,"hi":0.150,"lo":-0.200},{"t":14.7,"hi":0.120,"lo":-0.150},{"t":14.8,"hi":0.080,"lo":-0.080},{"t":14.9,"hi":0.050,"lo":-0.060},{"t":15.0,"hi":0.030,"lo":-0.030},{"t":15.1,"hi":0.050,"lo":-0.050},{"t":15.2,"hi":0.080,"lo":-0.070},{"t":15.3,"hi":0.100,"lo":-0.100},
{"t":15.4,"hi":0.060,"lo":-0.050},{"t":15.5,"hi":0.040,"lo":-0.030},{"t":15.6,"hi":0.010,"lo":-0.010},{"t":15.7,"hi":0.010,"lo":-0.008},{"t":15.8,"hi":0.030,"lo":-0.030},{"t":15.9,"hi":0.050,"lo":-0.050},{"t":16.0,"hi":0.150,"lo":-0.120},{"t":16.1,"hi":0.120,"lo":-0.150},{"t":16.2,"hi":0.200,"lo":-0.200},{"t":16.3,"hi":0.300,"lo":-0.250},
{"t":16.4,"hi":0.250,"lo":-0.300},{"t":16.5,"hi":0.300,"lo":-0.330},{"t":16.6,"hi":0.300,"lo":-0.250},{"t":16.68,"hi":0.460,"lo":-0.300},{"t":16.75,"hi":0.300,"lo":-0.300},{"t":16.8,"hi":0.200,"lo":-0.200},{"t":16.9,"hi":0.300,"lo":-0.150},{"t":17.0,"hi":0.150,"lo":-0.200},{"t":17.1,"hi":0.100,"lo":-0.080},{"t":17.2,"hi":0.060,"lo":-0.080},
{"t":17.3,"hi":0.050,"lo":-0.040},{"t":17.4,"hi":0.030,"lo":-0.040},{"t":17.5,"hi":0.020,"lo":-0.015},{"t":17.6,"hi":0.010,"lo":-0.008},{"t":17.7,"hi":0.002,"lo":-0.002},
{"t":18.3,"hi":0.002,"lo":-0.002},{"t":18.4,"hi":0.030,"lo":-0.040},{"t":18.5,"hi":0.060,"lo":-0.050},{"t":18.6,"hi":0.030,"lo":-0.030},{"t":18.7,"hi":0.015,"lo":-0.010},{"t":18.8,"hi":0.002,"lo":-0.002},
{"t":20.6,"hi":0.002,"lo":-0.002},{"t":20.7,"hi":0.020,"lo":-0.020},{"t":20.8,"hi":0.040,"lo":-0.030},{"t":20.9,"hi":0.020,"lo":-0.020},{"t":21.0,"hi":0.002,"lo":-0.002},
{"t":21.4,"hi":0.002,"lo":-0.002},{"t":21.5,"hi":0.030,"lo":-0.035},{"t":21.6,"hi":0.020,"lo":-0.020},{"t":21.7,"hi":0.002,"lo":-0.002},
{"t":22.0,"hi":0.002,"lo":-0.002},{"t":22.1,"hi":0.020,"lo":-0.030},{"t":22.2,"hi":0.030,"lo":-0.040},{"t":22.3,"hi":0.010,"lo":-0.010},{"t":22.4,"hi":0.002,"lo":-0.002},
{"t":23.9,"hi":0.002,"lo":-0.002},{"t":24.0,"hi":0.050,"lo":-0.030},{"t":24.1,"hi":0.050,"lo":-0.080},{"t":24.2,"hi":0.120,"lo":-0.100},{"t":24.3,"hi":0.080,"lo":-0.220},{"t":24.4,"hi":0.100,"lo":-0.060},{"t":24.5,"hi":0.050,"lo":-0.040},{"t":24.6,"hi":0.040,"lo":-0.040},{"t":24.7,"hi":0.030,"lo":-0.030},{"t":24.8,"hi":0.020,"lo":-0.020},{"t":24.9,"hi":0.002,"lo":-0.002},
{"t":25.0,"hi":0.040,"lo":-0.040},{"t":25.1,"hi":0.020,"lo":-0.020},{"t":25.2,"hi":0.002,"lo":-0.002},
{"t":25.9,"hi":0.002,"lo":-0.002},{"t":26.0,"hi":0.020,"lo":-0.015},{"t":26.1,"hi":0.002,"lo":-0.002},{"t":26.6,"hi":0.002,"lo":-0.002}
]
},
"concat": [
{
  "width": 466, "height": 368,
  "title": {"text": "(a)", "orient": "bottom", "font": "Liberation Serif", "fontSize": 16, "fontWeight": "bold", "color": "black", "offset": 4, "dx": -20},
  "data": {"name": "a"},
  "encoding": {
    "x": {"field": "t", "type": "quantitative", "scale": {"domain": [0, 26.7], "nice": false, "zero": false},
          "axis": {"values": [0,5,10,15,20,25], "title": "t(s)", "titleFontSize": 14}},
    "y": {"field": "lo", "type": "quantitative", "scale": {"domain": [-1.5, 1.5], "nice": false},
          "axis": {"values": [-1.5,-1,-0.5,0,0.5,1,1.5], "labelExpr": "'' + datum.value", "title": "Amp", "titleFontSize": 14, "titlePadding": 16.6}},
    "y2": {"field": "hi"}
  },
  "layer": [
    {"mark": {"type": "area", "color": "black", "clip": true}},
    {"mark": {"type": "rule", "color": "black", "strokeWidth": 1.2, "clip": true}}
  ]
},
{
  "width": 472, "height": 370,
  "title": {"text": "(b)", "orient": "bottom", "font": "Liberation Serif", "fontSize": 16, "fontWeight": "bold", "color": "black", "offset": 7, "dx": -26},
  "data": {"name": "b"},
  "encoding": {
    "x": {"field": "t", "type": "quantitative", "scale": {"domain": [0, 26.7], "nice": false, "zero": false},
          "axis": {"values": [0,5,10,15,20,25], "title": "t(s)", "titleFontSize": 17, "titlePadding": 3}},
    "y": {"field": "lo", "type": "quantitative", "scale": {"domain": [-1.5, 1.5], "nice": false},
          "axis": {"values": [-1.5,-1,-0.5,0,0.5,1,1.5], "labelExpr": "'' + datum.value", "title": "Amp", "titleFontSize": 16, "titlePadding": 13.6}},
    "y2": {"field": "hi"}
  },
  "layer": [
    {"mark": {"type": "area", "color": "black", "clip": true}},
    {"mark": {"type": "rule", "color": "black", "strokeWidth": 1.2, "clip": true}}
  ]
},
{
  "width": 441, "height": 347,
  "title": {"text": "(c)", "orient": "bottom", "font": "Liberation Serif", "fontSize": 16, "fontWeight": "bold", "color": "black", "offset": 23, "dx": -8},
  "data": {"name": "c"},
  "encoding": {
    "x": {"field": "t", "type": "quantitative", "scale": {"domain": [0, 26.6], "nice": false, "zero": false},
          "axis": {"values": [0,5,10,15,20,25], "title": "t(s)", "titleFontSize": 13, "titlePadding": 3}},
    "y": {"field": "lo", "type": "quantitative", "scale": {"domain": [-1, 1.5], "nice": false},
          "axis": {"values": [-1,-0.5,0,0.5,1,1.5], "labelExpr": "'' + datum.value", "title": "Amp", "titleFontSize": 13, "titlePadding": 13.1}},
    "y2": {"field": "hi"}
  },
  "layer": [
    {"mark": {"type": "rule", "color": "black", "strokeWidth": 0.8}, "encoding": {"x": null, "y": {"datum": 0}, "y2": null}},
    {"mark": {"type": "area", "color": "black", "clip": true}},
    {"mark": {"type": "rule", "color": "black", "strokeWidth": 1.2, "clip": true}}
  ]
}
]
}
